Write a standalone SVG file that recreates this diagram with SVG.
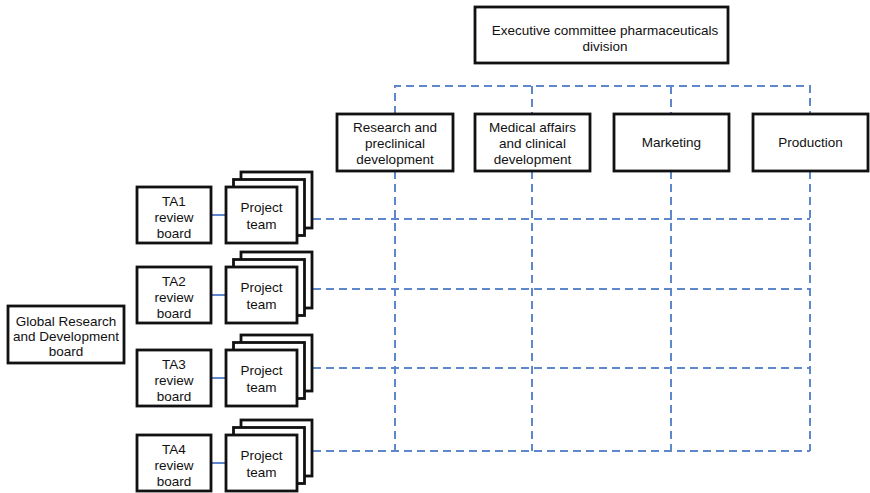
<svg xmlns="http://www.w3.org/2000/svg" width="870" height="493" viewBox="0 0 870 493">
  <style>
    .box { fill: #ffffff; stroke: #111111; stroke-width: 2.8; }
    .lbl { font-family: "Liberation Sans", Arial, sans-serif; font-size: 13.5px; fill: #111111; text-anchor: middle; }
    .dash { fill: none; stroke: #5f87cc; stroke-width: 2; stroke-dasharray: 8 5; }
    .link { fill: none; stroke: #5f87cc; stroke-width: 2; }
  </style>
  <defs>
    <!-- stacked project team cards, front card at origin -->
    <g id="stack">
      <rect class="box" x="15" y="-15" width="71" height="56"/>
      <rect class="box" x="7.5" y="-7.5" width="71" height="56"/>
      <rect class="box" x="0" y="0" width="71" height="56"/>
      <text class="lbl" x="35.5" y="24.5">Project</text>
      <text class="lbl" x="35.5" y="41.5">team</text>
    </g>
  </defs>

  <!-- dashed matrix connectors -->
  <g id="connectors">
    <path class="dash" d="M395,114 V86 H810 V114"/>
    <path class="dash" d="M532,86 V114"/>
    <path class="dash" d="M671,86 V114"/>
    <path class="dash" d="M395,171 V451"/>
    <path class="dash" d="M532,171 V451"/>
    <path class="dash" d="M671,171 V451"/>
    <path class="dash" d="M810,171 V451"/>
    <path class="dash" d="M313,219 H810"/>
    <path class="dash" d="M313,289 H810"/>
    <path class="dash" d="M313,368 H810"/>
    <path class="dash" d="M313,451 H810"/>
    <path class="link" d="M211,215 H226"/>
    <path class="link" d="M211,295 H226"/>
    <path class="link" d="M211,378 H226"/>
    <path class="link" d="M211,463 H226"/>
  </g>

  <g id="exec">
    <rect class="box" x="475" y="7" width="253" height="56"/>
    <text class="lbl" x="605" y="35">Executive committee pharmaceuticals</text>
    <text class="lbl" x="605" y="50.5">division</text>
  </g>

  <g id="dept-research">
    <rect class="box" x="337" y="114" width="116" height="57"/>
    <text class="lbl" x="395" y="131.5">Research and</text>
    <text class="lbl" x="395" y="147.5">preclinical</text>
    <text class="lbl" x="395" y="163.5">development</text>
  </g>
  <g id="dept-medical">
    <rect class="box" x="475" y="114" width="115" height="57"/>
    <text class="lbl" x="532.5" y="131.5">Medical affairs</text>
    <text class="lbl" x="532.5" y="147.5">and clinical</text>
    <text class="lbl" x="532.5" y="163.5">development</text>
  </g>
  <g id="dept-marketing">
    <rect class="box" x="614" y="114" width="115" height="57"/>
    <text class="lbl" x="671.5" y="147">Marketing</text>
  </g>
  <g id="dept-production">
    <rect class="box" x="753" y="114" width="115" height="57"/>
    <text class="lbl" x="810.5" y="147">Production</text>
  </g>

  <g id="global-board">
    <rect class="box" x="8" y="306" width="116" height="57"/>
    <text class="lbl" x="66" y="326">Global Research</text>
    <text class="lbl" x="66" y="341">and Development</text>
    <text class="lbl" x="66" y="356">board</text>
  </g>

  <g id="ta1">
    <rect class="box" x="137" y="187" width="74" height="56"/>
    <text class="lbl" x="174" y="205.5">TA1</text>
    <text class="lbl" x="174" y="221.5">review</text>
    <text class="lbl" x="174" y="237.5">board</text>
  </g>
  <g id="team1"><use href="#stack" x="226" y="187"/></g>

  <g id="ta2">
    <rect class="box" x="137" y="267" width="74" height="56"/>
    <text class="lbl" x="174" y="285.5">TA2</text>
    <text class="lbl" x="174" y="301.5">review</text>
    <text class="lbl" x="174" y="317.5">board</text>
  </g>
  <g id="team2"><use href="#stack" x="226" y="267"/></g>

  <g id="ta3">
    <rect class="box" x="137" y="350" width="74" height="56"/>
    <text class="lbl" x="174" y="368.5">TA3</text>
    <text class="lbl" x="174" y="384.5">review</text>
    <text class="lbl" x="174" y="400.5">board</text>
  </g>
  <g id="team3"><use href="#stack" x="226" y="350"/></g>

  <g id="ta4">
    <rect class="box" x="137" y="435" width="74" height="56"/>
    <text class="lbl" x="174" y="453.5">TA4</text>
    <text class="lbl" x="174" y="469.5">review</text>
    <text class="lbl" x="174" y="485.5">board</text>
  </g>
  <g id="team4"><use href="#stack" x="226" y="435"/></g>
</svg>
